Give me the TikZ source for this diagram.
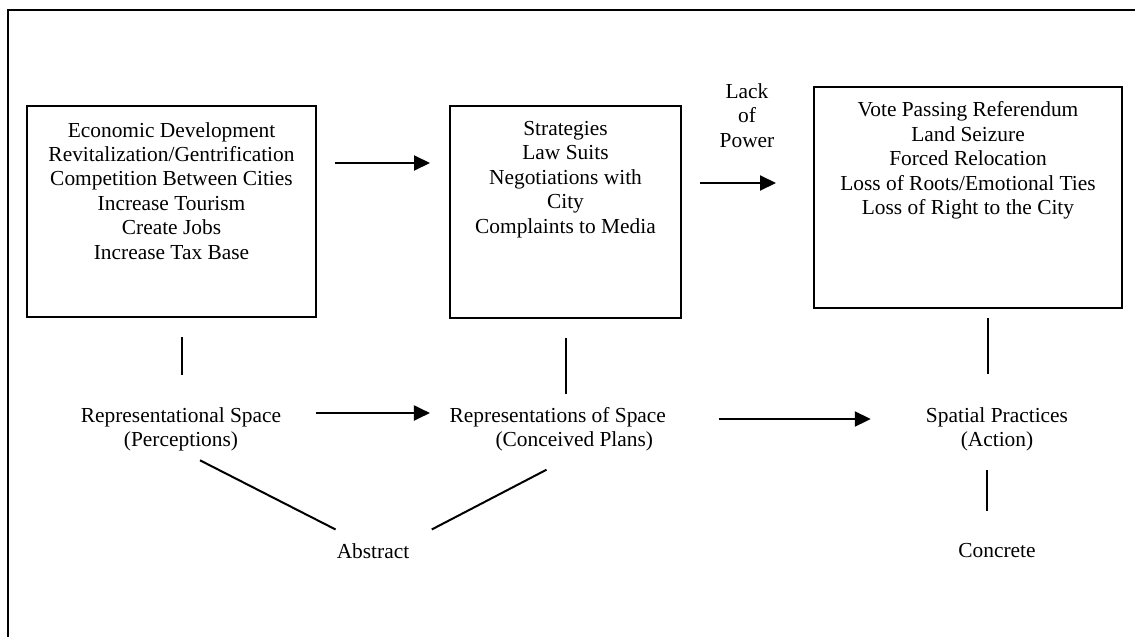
\documentclass[tikz,border=0pt]{standalone}
\usepackage{fontspec}
\setmainfont{Liberation Serif}
\usetikzlibrary{arrows.meta}
\begin{document}
\begin{tikzpicture}[x=1pt,y=-1pt,
  txt/.style={font=\fontsize{21.4}{24.4}\selectfont, align=center, inner sep=0pt},
  panel/.style={draw, line width=2pt, inner sep=0pt},
  link/.style={line width=2pt},
  flow/.style={line width=2pt, -{Triangle[length=16pt,width=15pt]}}
]
\useasboundingbox (0,0) rectangle (1135,637);

% outer frame (top and left edges)
\draw[line width=2pt] (8,637) -- (8,10) -- (1135,10);

% the three panels
\node[panel, minimum width=289pt, minimum height=211pt] (b1) at (171.5,211.5) {};
\node[panel, minimum width=231pt, minimum height=212pt] (b2) at (565.5,212) {};
\node[panel, minimum width=308pt, minimum height=221pt] (b3) at (968,197.5) {};

% panel contents
\node[txt] (t1) at (171.5,190.7) {Economic Development\\Revitalization/Gentrification\\Competition Between Cities\\Increase Tourism\\Create Jobs\\Increase Tax Base};
\node[txt] (t2) at (565.5,179.4) {Strategies\\Law Suits\\Negotiations with\\City\\Complaints to Media};
\node[txt] (t3) at (968,160.4) {Vote Passing Referendum\\Land Seizure\\Forced Relocation\\Loss of Roots/Emotional Ties\\Loss of Right to the City};
\node[txt] (lack) at (747,115.3) {Lack\\of\\Power};

% the three kinds of space
\node[txt] (rs) at (181,429.2) {Representational Space\\(Perceptions)};
\node[txt] (ros) at (557.8,429.5) {Representations of Space\\\hspace*{33pt}(Conceived Plans)};
\node[txt] (sp) at (997,429.2) {Spatial Practices\\(Action)};
\node[txt] (ab) at (373,550.7) {Abstract};
\node[txt] (cc) at (997,550.7) {Concrete};

% arrows between panels
\draw[flow, shorten <=18pt, shorten >=19pt] ([yshift=48.5pt]b1.east) -- ([yshift=48.5pt]b1.east -| b2.west);
\draw[flow, shorten <=18pt, shorten >=37pt] ([yshift=29pt]b2.east) -- ([yshift=29pt]b2.east -| b3.west);

% arrows between the kinds of space
\draw[flow, shorten <=34.5pt, shorten >=19.5pt] ([yshift=16.2pt]rs.east) -- ([yshift=16.2pt]rs.east -| ros.west);
\draw[flow, shorten <=52.5pt, shorten >=55pt] ([yshift=10.5pt]ros.east) -- ([yshift=10.5pt]ros.east -| sp.west);

% vertical ties from panels down to the kinds of space
\draw[link, shorten <=19pt, shorten >=32.5pt] ([xshift=1pt]rs.north |- b1.south) -- ([xshift=1pt]rs.north);
\draw[link, shorten <=19pt, shorten >=13.5pt] ([xshift=0.5pt]b2.south) -- ([xshift=0.5pt]b2.south |- ros.north);
\draw[link, shorten <=9pt, shorten >=33.5pt] ([xshift=20pt]b3.south) -- ([xshift=20pt]b3.south |- sp.north);
\draw[link, shorten <=19pt, shorten >=32.5pt] ([xshift=-10pt]sp.south) -- ([xshift=-10pt]sp.south |- cc.north);

% ties to Abstract
\draw[link] ([shift={(19pt,-9pt)}]rs.south) -- ([shift={(-1pt,13.5pt)}]ab.north west);
\draw[link] ([shift={(22.3pt,13.5pt)}]ab.north east) -- ([shift={(-11.3pt,-18pt)}]ros.south);
\end{tikzpicture}
\end{document}
